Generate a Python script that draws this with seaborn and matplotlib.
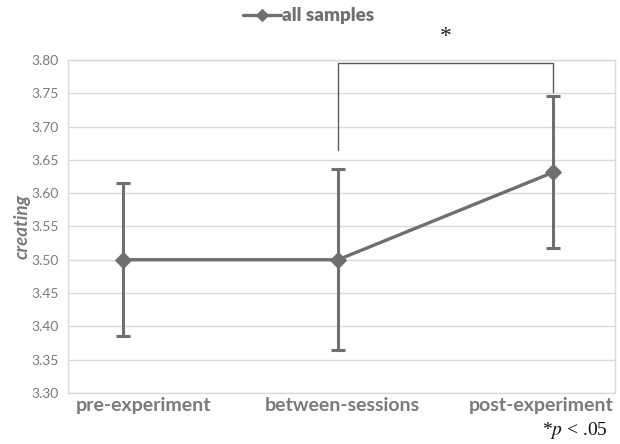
import numpy as np
import pandas as pd
import matplotlib
matplotlib.use('Agg')
import matplotlib.pyplot as plt
import seaborn as sns

# values
phases = ['pre-experiment', 'between-sessions', 'post-experiment']
means = [3.50, 3.50, 3.631]
err_low = [3.385, 3.364, 3.517]
err_high = [3.615, 3.636, 3.746]
yticks = [3.30, 3.35, 3.40, 3.45, 3.50, 3.55, 3.60, 3.65, 3.70, 3.75, 3.80]

sns.set_theme(style='white')
plt.rcParams['font.family'] = ['Lato', 'DejaVu Sans']
plt.rcParams['mathtext.fontset'] = 'stix'

grey = '#6f6f6f'
text_grey = '#7a7a7a'
grid_grey = '#d9d9d9'

df = pd.DataFrame({'pos': range(len(phases)), 'phase': phases, 'mean': means})
yerr = np.array([np.array(means) - np.array(err_low), np.array(err_high) - np.array(means)])

fig = plt.figure(figsize=(6.2, 4.44), dpi=100)
ax = fig.add_axes([0.110, 0.115, 0.882, 0.750])

ax.errorbar(df['pos'], df['mean'], yerr=yerr, fmt='none', ecolor=grey,
            elinewidth=2.2, capsize=5, capthick=2.2, zorder=3)
sns.lineplot(data=df, x='pos', y='mean', ax=ax, color=grey, linewidth=2.4,
             marker='D', markersize=8, markeredgecolor=grey, label='all samples', zorder=4)

ax.set_xlim(-0.256, 2.29)
ax.set_ylim(3.30, 3.80)
ax.set_yticks(yticks)
ax.set_yticklabels([f'{v:.2f}' for v in yticks], color=text_grey, fontsize=10)
ax.set_xticks(df['pos'])
ax.set_xticklabels(phases, color=text_grey, fontsize=14, fontweight='bold')
ax.tick_params(axis='x', length=0, pad=3)
ax.tick_params(axis='y', length=0, pad=7)
# labels sit a bit right of the points, like in the original
for lbl, dx in zip(ax.get_xticklabels(), [20, 4, -12]):
    lbl.set_transform(lbl.get_transform() + matplotlib.transforms.ScaledTranslation(dx / 100, 0, fig.dpi_scale_trans))
ax.yaxis.grid(True, color=grid_grey, linewidth=1)
ax.xaxis.grid(False)
for s in ax.spines.values():
    s.set_color(grid_grey)
    s.set_linewidth(1)
ax.set_xlabel('')
ax.set_ylabel('creating', color=text_grey, fontsize=13.5, fontweight='bold', fontstyle='italic')
ax.yaxis.set_label_coords(-0.068, 0.5)

# legend on top
leg = ax.legend(loc='lower center', bbox_to_anchor=(0.44, 1.085), frameon=False,
                prop={'size': 13.5, 'weight': 'bold'}, handlelength=2.0,
                handletextpad=0.1, borderaxespad=0, markerscale=0.75)
for t in leg.get_texts():
    t.set_color('#707070')
    t.set_fontweight('heavy')

# significance bracket
ax.plot([1, 1, 2, 2], [3.665, 3.795, 3.795, 3.752], color='#5a5a5a', linewidth=1.0,
        clip_on=False, zorder=5)
ax.text(1.5, 3.835, '*', ha='center', va='center', fontsize=17, family='Liberation Serif',
        color='#222222', clip_on=False)

fig.text(0.98, 0.03, r'*$p$ < .05', ha='right', va='center', fontsize=14,
         family='Liberation Serif', color='#111111')

fig.savefig('out.png', dpi=100)
